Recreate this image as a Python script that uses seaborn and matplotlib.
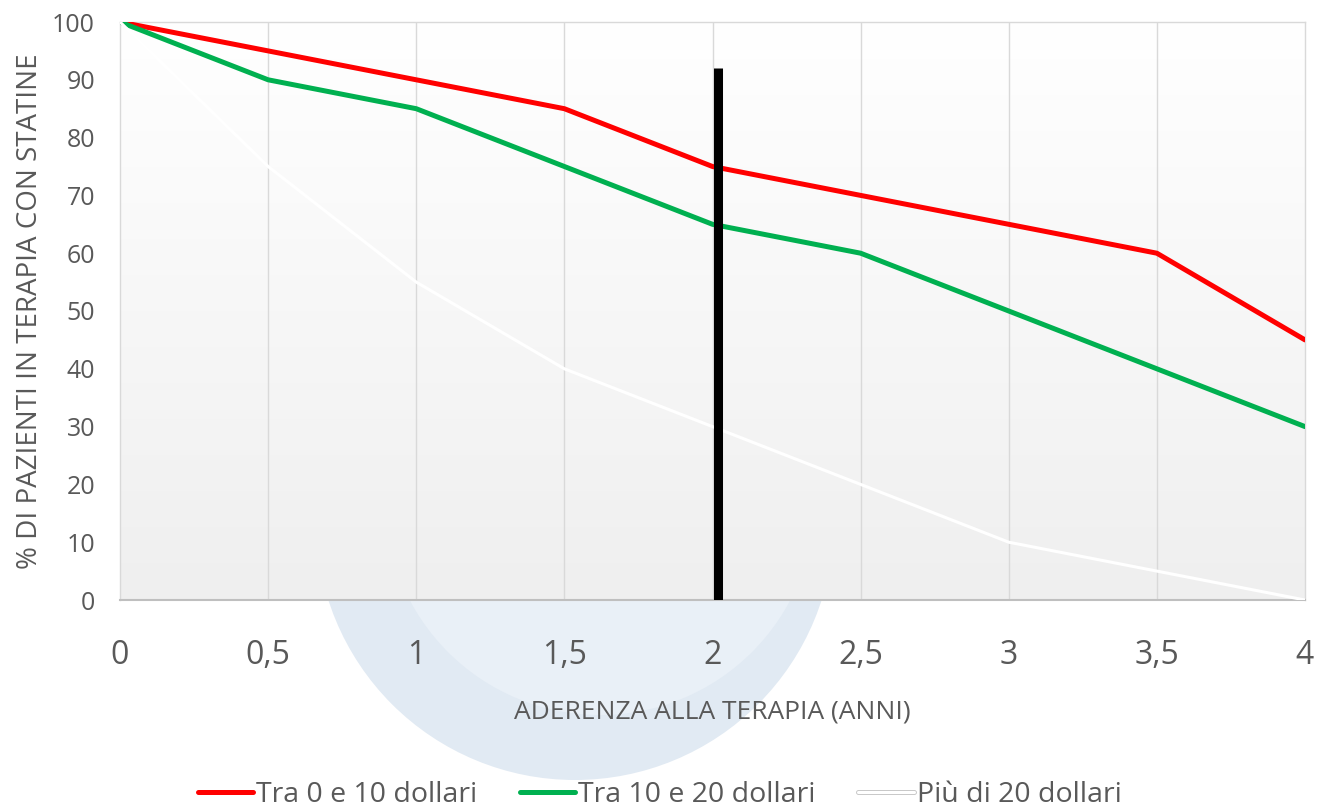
import numpy as np
import pandas as pd
import matplotlib
matplotlib.use("Agg")
import matplotlib.pyplot as plt
import matplotlib.patheffects as pe
from matplotlib.colors import LinearSegmentedColormap
from matplotlib.lines import Line2D
from matplotlib.patches import Ellipse
import seaborn as sns

years = [0, 0.5, 1, 1.5, 2, 2.5, 3, 3.5, 4]
tick_labels = ["0", "0,5", "1", "1,5", "2", "2,5", "3", "3,5", "4"]
series_names = ["Tra 0 e 10 dollari", "Tra 10 e 20 dollari", "Più di 20 dollari"]
low_cost = [100, 95, 90, 85, 75, 70, 65, 60, 45]
mid_cost = [100, 90, 85, 75, 65, 60, 50, 40, 30]
high_cost = [100, 75, 55, 40, 30, 20, 10, 5, 0]
colors = ["#ff0000", "#00b050", "#ffffff"]
marker_year = 2.02
marker_top = 92

df = pd.DataFrame({
    "anni": years * 3,
    "pct": low_cost + mid_cost + high_cost,
    "serie": [s for s in series_names for _ in years],
})

sns.set_style("white")
plt.rcParams["font.family"] = ["Open Sans", "DejaVu Sans"]
text_grey = "#595959"

W, H = 1319, 811
fig = plt.figure(figsize=(W / 100, H / 100), dpi=100)

# faint watermark disc (logo) sitting behind the chart
for (px, py, r), col in [((575, 521, 259), "#e1eaf3"), ((600, 500, 215), "#e9f0f7")]:
    fig.patches.append(Ellipse((px / W, 1 - py / H), 2 * r / W, 2 * r / H,
                               transform=fig.transFigure, facecolor=col,
                               edgecolor="none", zorder=-5))

ax = fig.add_axes([120 / W, 211 / H, 1185 / W, 578 / H])
ax.set_zorder(1)
ax.set_facecolor("none")

grad = LinearSegmentedColormap.from_list("bg", ["#efefef", "#ffffff"])
ax.imshow(np.linspace(0, 1, 256).reshape(-1, 1), cmap=grad, origin="lower",
          extent=[0, 4, 0, 100], aspect="auto", zorder=0)

for x in years[1:-1]:
    ax.axvline(x, color="#d9d9d9", lw=1, zorder=1)

sns.lineplot(data=df, x="anni", y="pct", hue="serie", palette=colors,
             linewidth=3.6, legend=False, ax=ax, zorder=3)
for line, w in zip(ax.get_lines()[-3:], [3.6, 3.6, 2.2]):
    line.set_linewidth(w)

ax.plot([marker_year, marker_year], [0, marker_top], color="black",
        lw=6.5, solid_capstyle="butt", zorder=4)

ax.set_xlim(0, 4)
ax.set_ylim(0, 100)
ax.set_xticks(years)
ax.set_xticklabels(tick_labels)
ax.set_yticks(range(0, 101, 10))
ax.tick_params(axis="x", labelsize=23, colors=text_grey, pad=28, length=0)
ax.tick_params(axis="y", labelsize=18, colors=text_grey, pad=18, length=0)

for side in ["top", "right", "left"]:
    ax.spines[side].set_color("#d9d9d9")
    ax.spines[side].set_linewidth(1)
ax.spines["bottom"].set_color("#bfbfbf")
ax.spines["bottom"].set_linewidth(1.5)

ax.set_xlabel("ADERENZA ALLA TERAPIA (ANNI)", fontsize=19, color=text_grey,
              labelpad=20)
ax.set_ylabel("% DI PAZIENTI IN TERAPIA CON STATINE", fontsize=20,
              color=text_grey, labelpad=6)

handles = [
    Line2D([], [], color=colors[0], lw=3.6),
    Line2D([], [], color=colors[1], lw=3.6),
    Line2D([], [], color=colors[2], lw=2.2,
           path_effects=[pe.Stroke(linewidth=3.6, foreground="#c8c8c8"), pe.Normal()]),
]
fig.legend(handles, series_names, loc="center", bbox_to_anchor=(0.50, 1 - 795 / H),
           ncol=3, frameon=False, fontsize=20.5, handlelength=1.95, handletextpad=0.1,
           columnspacing=1.5, labelcolor=text_grey)

fig.savefig("out.png", dpi=100)
